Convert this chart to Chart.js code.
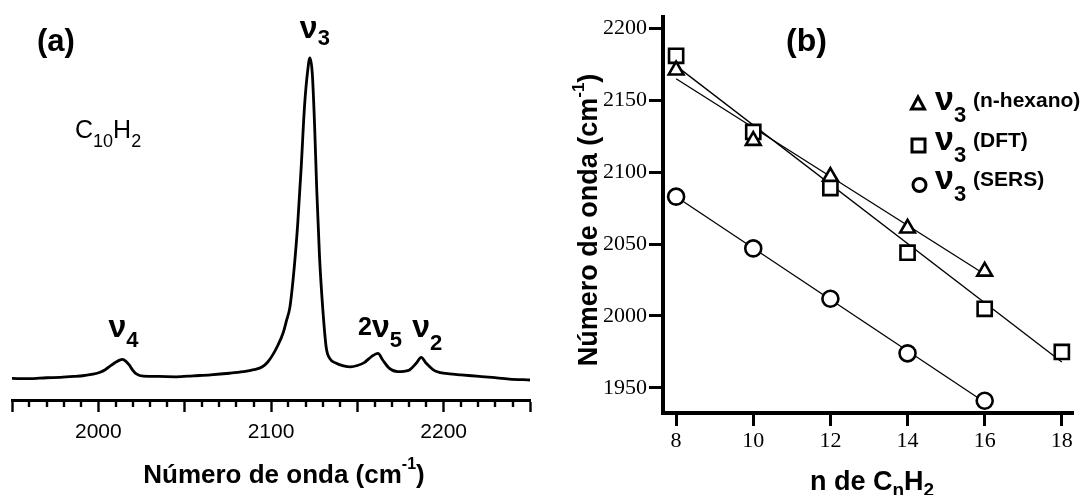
<!DOCTYPE html>
<html>
<head>
<meta charset="utf-8">
<script src="https://cdn.jsdelivr.net/npm/chart.js@4"></script>
<style>
  body { margin: 0; background: #fff; }
  #wrap { position: relative; width: 1086px; height: 495px; overflow: hidden; }
  canvas { position: absolute; top: 0; }
  #ca { left: 0; }
  #cb { left: 540px; }
</style>
</head>
<body>
<div id="wrap">
  <canvas id="ca" width="560" height="495"></canvas>
  <canvas id="cb" width="546" height="495"></canvas>
</div>
<script>
// panel (a): Raman spectrum of C10H2 (intensity normalised to the v3 peak)
const waveNumbers = [1950, 1960, 1970, 1978, 1986, 1992, 1997, 2001, 2004, 2007, 2010, 2012, 2014, 2016, 2018, 2020, 2022, 2026,
  2035, 2045, 2055, 2065, 2076, 2084, 2090, 2095, 2098, 2101, 2104, 2107, 2109, 2111, 2113.5, 2115.5, 2117.5, 2119.4,
  2121.3, 2122.5, 2123.9, 2125.2, 2126.5, 2128.1, 2130, 2132, 2134, 2137.8, 2142, 2146, 2150, 2154, 2158, 2162,
  2164.7, 2168.6, 2173.4, 2177, 2180.2, 2184.1, 2187, 2189.9, 2194.7, 2198, 2203.4, 2210, 2219, 2228, 2238, 2250]
const intensity = [0.005, 0.004, 0.007, 0.008, 0.011, 0.014, 0.018, 0.024, 0.032, 0.044, 0.055, 0.061, 0.064, 0.058, 0.046, 0.03, 0.019, 0.012,
  0.011, 0.01, 0.013, 0.016, 0.021, 0.026, 0.032, 0.041, 0.055, 0.078, 0.108, 0.146, 0.185, 0.228, 0.352, 0.487, 0.662, 0.849,
  0.963, 1.0, 0.953, 0.798, 0.59, 0.383, 0.22, 0.1, 0.067, 0.052, 0.044, 0.041, 0.045, 0.054, 0.072, 0.083,
  0.062, 0.036, 0.026, 0.027, 0.031, 0.052, 0.07, 0.052, 0.029, 0.023, 0.019, 0.016, 0.012, 0.008, 0.003, 0.0]
const peakNames = ['ν4', 'ν3', '2ν5', 'ν2']
const peakPositions = [2014, 2122.5, 2162, 2187]

// panel (b): v3 vs chain length
const nCarbon = [8, 10, 12, 14, 16]
const nCarbonDft = [8, 10, 12, 14, 16, 18]
const v3Hexano = [2171, 2122, 2097, 2061, 2031]
const v3Dft = [2181, 2128, 2089, 2044, 2005, 1975]
const v3Sers = [2083, 2047, 2012, 1974, 1941]
const fitHexanoX = [8, 16], fitHexanoY = [2165, 2029]
const fitDftX = [8, 18], fitDftY = [2174, 1968]
const fitSersX = [8, 16], fitSersY = [2083, 1940]
const yTicksB = [1950, 2000, 2050, 2100, 2150, 2200]

Chart.defaults.color = '#000'
Chart.defaults.animation = false

const SANS = '"Liberation Sans", Arial, sans-serif'
const SERIF = '"Liberation Serif", "Times New Roman", serif'

// draws text pieces one after the other: [text, font, dy]
function run(ctx, x, y, parts) {
  for (const [t, f, dy] of parts) {
    ctx.font = f
    ctx.fillText(t, x, y + (dy || 0))
    x += ctx.measureText(t).width
  }
  return x
}
function runWidth(ctx, parts) {
  let w = 0
  for (const [t, f] of parts) { ctx.font = f; w += ctx.measureText(t).width }
  return w
}

const nu = 'bold 32px ' + SANS
const sub = 'bold 22px ' + SANS

const spectrumDeco = {
  id: 'spectrumDeco',
  afterDraw(chart) {
    const { ctx, chartArea, scales: { x } } = chart
    ctx.save()
    ctx.strokeStyle = '#000'
    ctx.lineWidth = 2.4
    for (let v = x.min; v <= x.max; v += 10) {
      if (v % 50 === 0) continue
      const px = Math.round(x.getPixelForValue(v))
      ctx.beginPath()
      ctx.moveTo(px, chartArea.bottom)
      ctx.lineTo(px, chartArea.bottom + 7)
      ctx.stroke()
    }
    ctx.fillStyle = '#000'
    ctx.textBaseline = 'alphabetic'
    ctx.textAlign = 'left'
    run(ctx, 37, 51, [['(a)', 'bold 31px ' + SANS]])
    run(ctx, 75, 138, [['C', '25px ' + SANS], ['10', '18px ' + SANS, 9], ['H', '25px ' + SANS], ['2', '18px ' + SANS, 9]])

    // peak labels
    const lab = {
      'ν4': { dx: -14, y: 337, parts: [['ν', nu], ['4', sub, 10]] },
      'ν3': { dx: -10, y: 38, parts: [['ν', nu], ['3', sub, 7]] },
      '2ν5': { dx: -20, y: 337, parts: [['2', 'bold 25px ' + SANS, -2], ['ν', nu], ['5', sub, 10]] },
      'ν2': { dx: -9, y: 337, parts: [['ν', nu], ['2', sub, 13]] }
    }
    peakNames.forEach((name, i) => {
      const l = lab[name]
      run(ctx, x.getPixelForValue(peakPositions[i]) + l.dx, l.y, l.parts)
    })

    const title = [['Número de onda (cm', 'bold 26px ' + SANS], ['-1', 'bold 16px ' + SANS, -14], [')', 'bold 26px ' + SANS]]
    run(ctx, 284 - runWidth(ctx, title) / 2, 483, title)
    ctx.restore()
  }
}

new Chart(document.getElementById('ca'), {
  type: 'line',
  data: {
    labels: waveNumbers,
    datasets: [{
      data: waveNumbers.map((w, i) => ({ x: w, y: intensity[i] })),
      borderColor: '#000',
      borderWidth: 2.8,
      pointRadius: 0,
      cubicInterpolationMode: 'monotone',
      fill: false
    }]
  },
  options: {
    responsive: false,
    layout: { padding: { left: 12, right: 30, top: 20, bottom: 0 } },
    plugins: { legend: { display: false }, tooltip: { enabled: false } },
    scales: {
      x: {
        type: 'linear', min: 1950, max: 2250,
        afterFit(s) { s.height = 95 },
        border: { display: true, color: '#000', width: 3 },
        grid: { drawOnChartArea: false, tickLength: 12, tickWidth: 2.4, tickColor: '#000' },
        ticks: {
          stepSize: 50, autoSkip: false, maxRotation: 0, padding: 8,
          font: { family: SANS, size: 21 },
          callback: v => (v % 100 === 0 ? String(v) : '')
        }
      },
      y: { display: false, min: -0.0621, max: 1.118 }
    }
  },
  plugins: [spectrumDeco]
})

const seriesDeco = {
  id: 'seriesDeco',
  afterDraw(chart) {
    const { ctx } = chart
    ctx.save()
    ctx.fillStyle = '#000'
    ctx.strokeStyle = '#000'
    ctx.textBaseline = 'alphabetic'
    ctx.textAlign = 'left'
    run(ctx, 246, 51, [['(b)', 'bold 32px ' + SANS]])

    // legend
    ctx.lineWidth = 3
    ctx.beginPath()
    ctx.moveTo(378, 97); ctx.lineTo(384.5, 109); ctx.lineTo(371.5, 109); ctx.closePath(); ctx.stroke()
    ctx.strokeRect(372, 139, 13, 13)
    ctx.beginPath(); ctx.arc(379.5, 185, 6.5, 0, Math.PI * 2); ctx.stroke()
    const lnu = 'bold 34px ' + SANS
    const lsub = 'bold 22px ' + SANS
    const ltxt = 'bold 21px ' + SANS
    const rows = [['(n-hexano)', 110], ['(DFT)', 150], ['(SERS)', 189]]
    rows.forEach(([t, y]) => {
      run(ctx, 395, y, [['ν', lnu], ['3', lsub, 12]])
      run(ctx, 433, y - 3, [[t, ltxt]])
    })

    // axis titles
    const xt = [['n de C', 'bold 27px ' + SANS], ['n', 'bold 19px ' + SANS, 6], ['H', 'bold 27px ' + SANS], ['2', 'bold 19px ' + SANS, 6]]
    run(ctx, 270, 490, xt)
    const yt = [['Número de onda (cm', 'bold 27px ' + SANS], ['-1', 'bold 17px ' + SANS, -13], [')', 'bold 27px ' + SANS]]
    ctx.translate(57, 220)
    ctx.rotate(-Math.PI / 2)
    run(ctx, -runWidth(ctx, yt) / 2, 0, yt)
    ctx.restore()
  }
}

const pts = (xs, ys) => xs.map((v, i) => ({ x: v, y: ys[i] }))
const markerCommon = { showLine: false, borderColor: '#000', backgroundColor: '#fff', pointBorderWidth: 2.6, order: 0 }
const lineCommon = { showLine: true, borderColor: '#000', borderWidth: 1.3, pointRadius: 0, order: 1 }

new Chart(document.getElementById('cb'), {
  type: 'scatter',
  data: {
    datasets: [
      { ...markerCommon, label: 'v3 (n-hexano)', data: pts(nCarbon, v3Hexano), pointStyle: 'triangle', pointRadius: 8.5 },
      { ...markerCommon, label: 'v3 (DFT)', data: pts(nCarbonDft, v3Dft), pointStyle: 'rect', pointRadius: 10 },
      { ...markerCommon, label: 'v3 (SERS)', data: pts(nCarbon, v3Sers), pointStyle: 'circle', pointRadius: 8 },
      { ...lineCommon, data: pts(fitHexanoX, fitHexanoY) },
      { ...lineCommon, data: pts(fitDftX, fitDftY) },
      { ...lineCommon, data: pts(fitSersX, fitSersY) }
    ]
  },
  options: {
    responsive: false,
    layout: { padding: { left: 0, right: 11, top: 17, bottom: 0 } },
    plugins: { legend: { display: false }, tooltip: { enabled: false } },
    scales: {
      x: {
        type: 'linear', min: 7.66, max: 18.3,
        afterFit(s) { s.height = 82 },
        border: { color: '#000', width: 4 },
        grid: { drawOnChartArea: false, tickLength: 13, tickWidth: 3, tickColor: '#000' },
        ticks: { stepSize: 2, includeBounds: false, autoSkip: false, maxRotation: 0, padding: 2, font: { family: SERIF, size: 22 } }
      },
      y: {
        type: 'linear', min: 1932.5, max: 2208,
        afterFit(s) { s.width = 123 },
        afterBuildTicks(s) { s.ticks = yTicksB.map(v => ({ value: v })) },
        border: { color: '#000', width: 4 },
        grid: { drawOnChartArea: false, tickLength: 14, tickWidth: 3, tickColor: '#000' },
        ticks: { padding: 2, font: { family: SERIF, size: 22 }, callback: v => String(v) }
      }
    }
  },
  plugins: [seriesDeco]
})
</script>
</body>
</html>
